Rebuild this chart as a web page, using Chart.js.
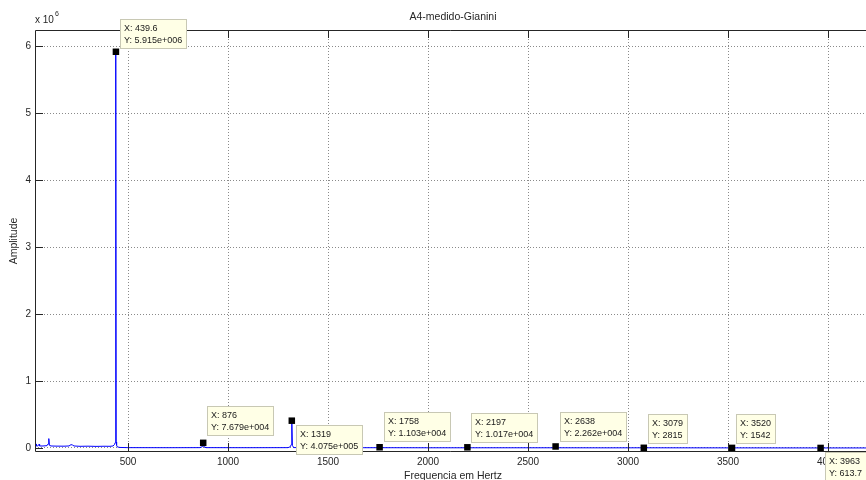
<!DOCTYPE html>
<html>
<head>
<meta charset="utf-8">
<script src="https://cdn.jsdelivr.net/npm/chart.js@4.4.1/dist/chart.umd.min.js"></script>
<style>
  html, body { margin: 0; padding: 0; background: #ffffff; overflow: hidden; }
  canvas { display: block; }
</style>
</head>
<body>
<canvas id="c" width="866" height="480"></canvas>
<script>
// Spectrum of the A4 note: frequency (Hz) and amplitude
const freqHz = [
  35, 38, 40, 42, 48, 55, 58, 75, 95, 100, 104, 107, 115, 140, 180, 205, 215, 222, 230,
  260, 300, 340, 380, 410, 425, 432, 436, 438, 439.6, 441, 443, 447, 460, 500,
  700, 860, 872, 876, 880, 890, 1100, 1300, 1312, 1316, 1319, 1322, 1328, 1500,
  1750, 1758, 1765, 2000, 2190, 2197, 2204, 2400, 2630, 2638, 2645, 2900, 3079,
  3300, 3520, 3700, 3963, 4100, 4190
];
const amplitude = [
  45000, 30000, 60000, 30000, 28000, 55000, 30000, 30000, 35000, 60000, 140000, 40000, 30000, 28000, 27000, 30000, 50000, 45000, 30000,
  25000, 27000, 24000, 26000, 25000, 30000, 50000, 80000, 1620000, 5915000, 90000, 40000, 15000, 8000, 5000,
  4000, 5000, 20000, 76790, 15000, 5000, 4000, 5000, 20000, 50000, 407500, 40000, 6000, 4000,
  4000, 11030, 4000, 3000, 3000, 10170, 3000, 3000, 3000, 22620, 3000, 2000, 2815,
  2000, 1542, 1000, 613.7, 500, 500
];

// Harmonic peaks marked with data tips
const peakHz = [439.6, 876, 1319, 1758, 2197, 2638, 3079, 3520, 3963];
const peakAmp = [5.915e6, 7.679e4, 4.075e5, 1.103e4, 1.017e4, 2.262e4, 2815, 1542, 613.7];
// which side of its marker each tip sits on, and how far
const tipSide = ['up', 'up', 'down', 'up', 'up', 'up', 'up', 'up', 'down'];
const tipGap = [3, 7, 4, 5, 4, 4, 4, 4, 4];

// Axis ticks
const xTicks = [500, 1000, 1500, 2000, 2500, 3000, 3500, 4000];
const yTicks = [0, 1e6, 2e6, 3e6, 4e6, 5e6, 6e6];
const yTickLabels = ['0', '1', '2', '3', '4', '5', '6'];

const titleText = 'A4-medido-Gianini';
const xTitle = 'Frequencia em Hertz';
const yTitle = 'Amplitude';

const FONT = "'Liberation Sans', Arial, sans-serif";
const INK = '#262626';

// MATLAB-style %.4g formatting, e.g. 5.915e+006
function fmt4g(v) {
  const e = Math.floor(Math.log10(Math.abs(v)));
  if (e >= 4) {
    let m = (v / Math.pow(10, e)).toPrecision(4);
    if (m.indexOf('.') >= 0) m = m.replace(/0+$/, '').replace(/\.$/, '');
    return m + 'e+' + String(e).padStart(3, '0');
  }
  return String(Number(v.toPrecision(4)));
}

const axesFrame = {
  id: 'axesFrame',
  afterDatasetsDraw(chart) {
    const { ctx, chartArea: a, scales: { x, y } } = chart;
    ctx.save();
    ctx.strokeStyle = INK;
    ctx.lineWidth = 1;
    ctx.beginPath();
    ctx.moveTo(a.right, a.top + 0.5);
    ctx.lineTo(a.left + 0.5, a.top + 0.5);
    ctx.lineTo(a.left + 0.5, a.bottom + 0.5);
    ctx.lineTo(a.right, a.bottom + 0.5);
    xTicks.forEach(v => {
      const px = Math.round(x.getPixelForValue(v)) + 0.5;
      ctx.moveTo(px, a.top); ctx.lineTo(px, a.top + 8);
      ctx.moveTo(px, a.bottom); ctx.lineTo(px, a.bottom - 8);
    });
    yTicks.forEach(v => {
      const py = Math.round(y.getPixelForValue(v)) + 0.5;
      ctx.moveTo(a.left, py); ctx.lineTo(a.left + 8, py);
    });
    ctx.stroke();

    // titles
    ctx.fillStyle = INK;
    ctx.textBaseline = 'middle';
    ctx.textAlign = 'center';
    ctx.font = '10.5px ' + FONT;
    ctx.fillText(titleText, 453, 17);
    ctx.fillText(xTitle, 453, 476);
    ctx.save();
    ctx.translate(14, 241);
    ctx.rotate(-Math.PI / 2);
    ctx.fillText(yTitle, 0, 0);
    ctx.restore();

    // exponent label
    ctx.textAlign = 'left';
    ctx.textBaseline = 'alphabetic';
    ctx.font = '10px ' + FONT;
    ctx.fillText('x 10', 35, 23);
    const w = ctx.measureText('x 10').width;
    ctx.font = '7px ' + FONT;
    ctx.fillText('6', 35 + w + 1, 16);
    ctx.restore();
  },
  afterDraw(chart) {
    const { ctx } = chart;
    const meta = chart.getDatasetMeta(0);
    ctx.save();
    ctx.font = '9px ' + FONT;
    ctx.textAlign = 'left';
    ctx.textBaseline = 'middle';
    meta.data.forEach((pt, i) => {
      const l1 = 'X: ' + fmt4g(peakHz[i]);
      const l2 = 'Y: ' + fmt4g(peakAmp[i]);
      const bw = Math.ceil(Math.max(ctx.measureText(l1).width, ctx.measureText(l2).width)) + 8;
      const bh = 30;
      const bx = Math.round(pt.x + 4);
      const by = tipSide[i] === 'up' ? Math.round(pt.y - tipGap[i] - bh) : Math.round(pt.y + tipGap[i]);
      ctx.fillStyle = '#ffffe6';
      ctx.fillRect(bx, by, bw, bh);
      ctx.strokeStyle = '#c8c8b4';
      ctx.lineWidth = 1;
      ctx.strokeRect(bx + 0.5, by + 0.5, bw - 1, bh - 1);
      ctx.fillStyle = '#1a1a1a';
      ctx.fillText(l1, bx + 4, by + 10);
      ctx.fillText(l2, bx + 4, by + 21.5);
    });
    ctx.restore();
  }
};

new Chart(document.getElementById('c'), {
  type: 'scatter',
  data: {
    datasets: [
      {
        label: 'picos',
        data: peakHz.map((f, i) => ({ x: f, y: peakAmp[i] })),
        showLine: false,
        pointStyle: 'rect',
        pointRadius: 4.6,
        backgroundColor: '#000000',
        borderColor: '#000000',
        borderWidth: 0,
        clip: false,
        order: 0
      },
      {
        label: 'espectro',
        data: freqHz.map((f, i) => ({ x: f, y: amplitude[i] })),
        showLine: true,
        borderColor: '#0000ff',
        borderWidth: 1,
        pointRadius: 0,
        tension: 0,
        order: 1
      }
    ]
  },
  options: {
    responsive: false,
    animation: false,
    devicePixelRatio: 1,
    layout: { autoPadding: false, padding: { top: 30, left: 0, right: 0, bottom: 0 } },
    plugins: { legend: { display: false }, tooltip: { enabled: false } },
    scales: {
      x: {
        type: 'linear',
        min: 35,
        max: 4190,
        afterBuildTicks: s => { s.ticks = xTicks.map(v => ({ value: v })); },
        afterFit: s => { s.height = 29; s.paddingLeft = 0; s.paddingRight = 0; },
        ticks: {
          color: INK,
          font: { family: FONT, size: 10 },
          padding: 5,
          maxRotation: 0,
          callback: v => String(v)
        },
        grid: { color: '#8a8a8a', lineWidth: 1, drawTicks: false },
        border: { display: false, dash: [1, 2] }
      },
      y: {
        type: 'linear',
        min: -45000,
        max: 6.24e6,
        afterBuildTicks: s => { s.ticks = yTicks.map(v => ({ value: v })); },
        afterFit: s => { s.width = 35; s.paddingTop = 0; s.paddingBottom = 0; },
        ticks: {
          color: INK,
          font: { family: FONT, size: 10 },
          padding: 4,
          callback: (v, i) => yTickLabels[i]
        },
        grid: { color: '#8a8a8a', lineWidth: 1, drawTicks: false },
        border: { display: false, dash: [1, 2] }
      }
    }
  },
  plugins: [axesFrame]
});
</script>
</body>
</html>
